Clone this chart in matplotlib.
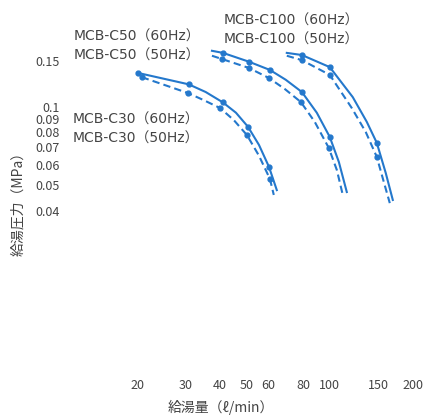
"""Hot water supply pressure vs flow rate chart (MCB-C series)."""

import matplotlib
matplotlib.use('Agg')
import matplotlib.pyplot as plt

FONTS = ['Noto Sans CJK JP', 'DejaVu Sans']
LABEL_FONTS = ['DejaVu Sans', 'Noto Sans CJK JP']
plt.rcParams['font.family'] = FONTS

LINE_COLOR = '#2478cc'
TEXT_COLOR = '#444444'

# ── Data (flow l/min, pressure MPa) ──
c30_60_flow = [20.1, 30.8, 35.5, 41.0, 45.7, 50.5, 55.4, 60.2, 64.3]
c30_60_pres = [0.135, 0.122, 0.114, 0.104, 0.095, 0.084, 0.0715, 0.059, 0.048]
c30_50_flow = [20.8, 30.6, 35.0, 40.0, 44.9, 50.1, 55.4, 60.7, 62.7]
c30_50_pres = [0.130, 0.113, 0.106, 0.099, 0.089, 0.078, 0.065, 0.053, 0.046]
c30_marks = [0, 1, 3, 5, 7]

c50_60_flow = [37.4, 41.0, 50.9, 60.7, 69.3, 79.3, 89.8, 100.1, 108.0, 115.4]
c50_60_pres = [0.164, 0.161, 0.149, 0.1385, 0.127, 0.114, 0.095, 0.0767, 0.0615, 0.0472]
c50_50_flow = [37.4, 40.6, 50.9, 60.2, 68.8, 78.6, 88.3, 99.3, 106.2, 111.6]
c50_50_pres = [0.157, 0.1526, 0.141, 0.129, 0.117, 0.1044, 0.0876, 0.0696, 0.0573, 0.046]
c50_marks = [1, 2, 3, 5, 7]

c100_60_flow = [69.9, 79.3, 100.1, 121.3, 136.4, 148.3, 159.8, 169.5]
c100_60_pres = [0.161, 0.158, 0.142, 0.109, 0.0876, 0.0728, 0.0558, 0.044]
c100_50_flow = [69.9, 79.3, 100.1, 120.3, 135.3, 148.3, 157.2, 165.3]
c100_50_pres = [0.157, 0.151, 0.1326, 0.099, 0.080, 0.0643, 0.0516, 0.0428]
c100_marks = [1, 2, 5]

x_ticks = [20, 30, 40, 50, 60, 80, 100, 150, 200]
y_ticks = [0.15, 0.1, 0.09, 0.08, 0.07, 0.06, 0.05, 0.04]

fig = plt.figure(figsize=(4.27, 4.15), dpi=100)
fig.patch.set_facecolor('white')
ax = fig.add_axes([0.1534, 0.1133, 0.8396, 0.8795])
ax.set_xscale('log')
ax.set_yscale('log')
ax.set_xlim(11, 220)
ax.set_ylim(0.01, 0.25)

curves = [
    (c30_60_flow, c30_60_pres, '-', c30_marks),
    (c30_50_flow, c30_50_pres, '--', c30_marks),
    (c50_60_flow, c50_60_pres, '-', c50_marks),
    (c50_50_flow, c50_50_pres, '--', c50_marks),
    (c100_60_flow, c100_60_pres, '-', c100_marks),
    (c100_50_flow, c100_50_pres, '--', c100_marks),
]
for flow, pres, ls, marks in curves:
    line, = ax.plot(flow, pres, color=LINE_COLOR, linestyle=ls, lw=1.5,
                    marker='o', markersize=3.5, markevery=marks)
    if ls == '--':
        line.set_dashes((3.5, 2))

for s in ax.spines.values():
    s.set_visible(False)
ax.set_xticks(x_ticks, [f'{v:g}' for v in x_ticks])
ax.set_yticks(y_ticks, [f'{v:g}' for v in y_ticks])
ax.minorticks_off()
ax.tick_params(axis='both', length=0, labelsize=9, labelcolor=TEXT_COLOR)
ax.tick_params(axis='x', pad=8)
ax.tick_params(axis='y', pad=4)

# Series labels (pixel positions in the 427x415 figure)
W, H = 427, 415
labels = [
    ('MCB-C50（60Hz）', 74, 37),
    ('MCB-C50（50Hz）', 74, 56),
    ('MCB-C30（60Hz）', 73, 120),
    ('MCB-C30（50Hz）', 73, 139),
    ('MCB-C100（60Hz）', 224, 21),
    ('MCB-C100（50Hz）', 224, 40),
]
for txt, px, py in labels:
    fig.text(px / W, 1 - py / H, txt, fontsize=10, color=TEXT_COLOR,
             ha='left', va='center', family=LABEL_FONTS)

fig.text(18 / W, 1 - 200 / H, '給湯圧力（MPa）', rotation=90, fontsize=10,
         color=TEXT_COLOR, ha='center', va='center', family=FONTS)
fig.text(221 / W, 1 - 407 / H, '給湯量（ℓ/min）', fontsize=10,
         color=TEXT_COLOR, ha='center', va='center', family=FONTS)

fig.savefig('out.png', dpi=100, facecolor='white')
